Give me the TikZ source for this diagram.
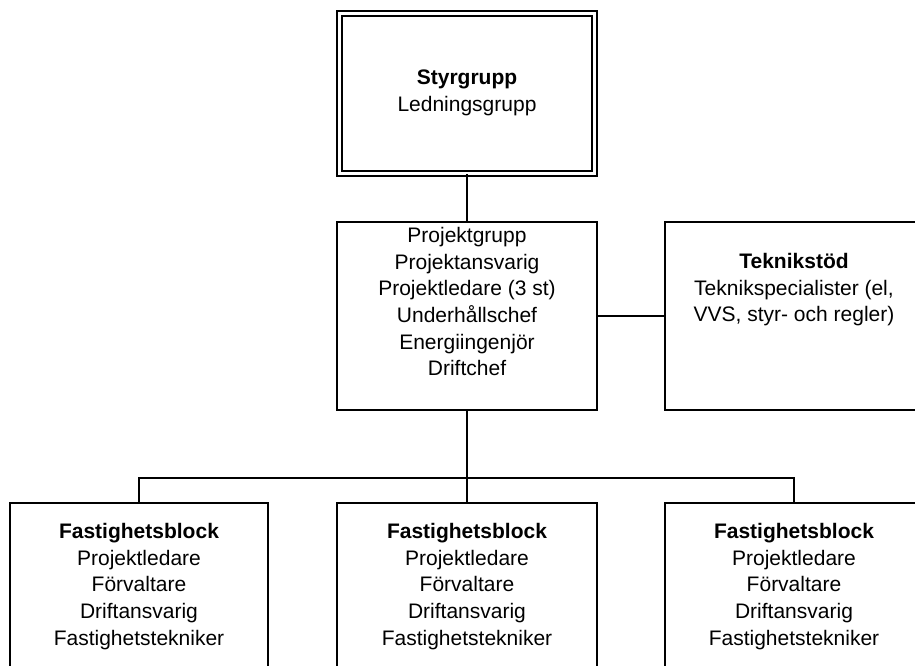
\documentclass[tikz,border=0pt]{standalone}
\usepackage{fontspec}
\setmainfont{Liberation Sans}
\begin{document}
\begin{tikzpicture}[x=1pt,y=-1pt,
  box/.style={draw=black,line width=1.2pt,fill=white,inner sep=0pt,
    minimum width=260pt,minimum height=188pt},
  dbox/.style={draw=black,line width=1.2pt,double=white,double distance=3.8pt,
    inner sep=0pt,minimum width=255pt,minimum height=160pt},
  bbox/.style={draw=black,line width=1.2pt,fill=white,inner sep=0pt,
    minimum width=258pt,minimum height=190pt},
  txt/.style={anchor=north,inner sep=0pt,align=center,
    font=\fontsize{21}{26.7}\selectfont},
  conn/.style={draw=black,line width=1.2pt}]
\useasboundingbox (0,0) rectangle (915,666);
\fill[white] (0,0) rectangle (915,666);
\clip (0,0) rectangle (915,666);

% boxes
\node[dbox] (styr) at (467,93.5) {};
\node[box] (proj) at (467,316) {};
\node[box,minimum width=258pt] (tek) at (794,316) {};
\node[bbox] (fb1) at (139,598) {};
\node[bbox,minimum width=260pt] (fb2) at (467,598) {};
\node[bbox] (fb3) at (794,598) {};

% texts
\node[txt] (tstyr) at (467,70) {\textbf{Styrgrupp}\\Ledningsgrupp};
\node[txt] (tproj) at (467,227) {Projektgrupp\\Projektansvarig\\Projektledare (3 st)\\Underhållschef\\Energiingenjör\\Driftchef};
\node[txt] (ttek) at (794,253) {\textbf{Teknikstöd}\\Teknikspecialister (el,\\VVS, styr- och regler)};
\node[txt] (tfb1) at (139,523) {\textbf{Fastighetsblock}\\Projektledare\\Förvaltare\\Driftansvarig\\Fastighetstekniker};
\node[txt] (tfb2) at (467,523) {\textbf{Fastighetsblock}\\Projektledare\\Förvaltare\\Driftansvarig\\Fastighetstekniker};
\node[txt] (tfb3) at (794,523) {\textbf{Fastighetsblock}\\Projektledare\\Förvaltare\\Driftansvarig\\Fastighetstekniker};

% connectors
\coordinate (bus) at (467,478);
\path[conn] (styr.south) -- (proj.north);
\path[conn] (proj.east) -- (tek.west);
\path[conn] (proj.south) -- (bus);
\path[conn] (fb1.north) |- (bus) -| (fb3.north);
\path[conn] (bus) -- (fb2.north);
\end{tikzpicture}
\end{document}
